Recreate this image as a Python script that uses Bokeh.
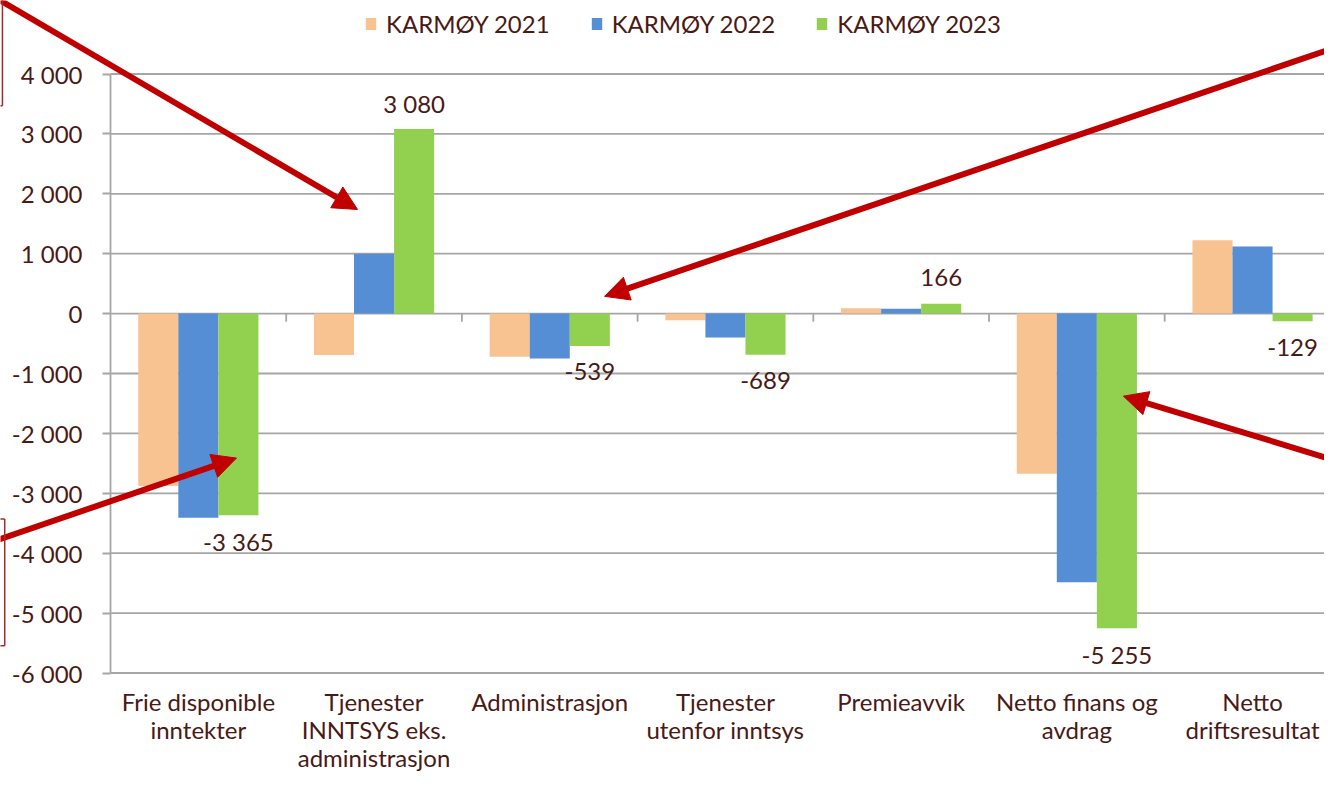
from bokeh.plotting import figure
from bokeh.models import Range1d, FixedTicker, Arrow, NormalHead, ColumnDataSource
from bokeh.core.properties import value
from bokeh.embed import file_html
from bokeh.resources import INLINE

# ---------------- data ----------------
categories = [
    "Frie disponible\ninntekter",
    "Tjenester\nINNTSYS eks.\nadministrasjon",
    "Administrasjon",
    "Tjenester\nutenfor inntsys",
    "Premieavvik",
    "Netto finans og\navdrag",
    "Netto\ndriftsresultat",
]
series_names = ["KARMØY 2021", "KARMØY 2022", "KARMØY 2023"]
v2021 = [-2880, -690, -720, -110, 88, -2675, 1223]
v2022 = [-3410, 1000, -750, -400, 80, -4484, 1122]
v2023 = [-3365, 3080, -539, -689, 166, -5255, -129]
y_ticks = [-6000, -5000, -4000, -3000, -2000, -1000, 0, 1000, 2000, 3000, 4000]

# ---------------- style ----------------
FONT = "Lato"
FS = "24px"
TXT = "#4a1914"
GRID = "#a6a6a6"
COLORS = ["#f8c291", "#558ed5", "#92d050"]
RED = "#c00000"
BOXRED = "#a52a2a"
BAR_W = 0.228

W, H = 1324, 771
LEFT, TOP, BOTTOM = 110, 73.5, 672.5      # pixel positions of the plot area
CAT_PX = 175.7                            # pixel width of one category
N = len(categories)
YMIN, YMAX = y_ticks[0], y_ticks[-1]
px_per_unit = (BOTTOM - TOP) / (YMAX - YMIN)


def fmt(v):
    return f"{v:,}".replace(",", " ")


# the frame covers the whole canvas so that annotations outside the plot area are visible
p = figure(
    width=W, height=H,
    x_range=Range1d(-LEFT / CAT_PX, (W - LEFT) / CAT_PX),
    y_range=Range1d(YMIN - (H - BOTTOM) / px_per_unit, YMAX + TOP / px_per_unit),
    output_backend="svg", toolbar_location=None,
    min_border=0, min_border_left=0, min_border_right=0, min_border_top=0, min_border_bottom=0,
)
p.outline_line_color = None
p.background_fill_color = "white"
p.border_fill_color = "white"
p.xgrid.visible = False
p.ygrid.visible = False

# horizontal grid lines
p.segment(x0=[0] * len(y_ticks), x1=[N + 0.2] * len(y_ticks), y0=y_ticks, y1=y_ticks,
          line_color=GRID, line_width=1.8)

# bars
centers = [i + 0.5 for i in range(N)]
for i, (vals, name) in enumerate(zip([v2021, v2022, v2023], series_names)):
    xs = [c + (i - 1) * BAR_W for c in centers]
    p.vbar(x=xs, top=vals, bottom=0, width=BAR_W,
           fill_color=COLORS[i], line_color=None, legend_label=name)

# small tick marks below the zero line at category boundaries
bounds = list(range(1, N + 1))
p.segment(x0=bounds, x1=bounds, y0=[0] * len(bounds), y1=[-135] * len(bounds),
          line_color=GRID, line_width=1.8)

# axes drawn at fixed locations inside the frame
yax = p.yaxis[0]
yax.fixed_location = 0
yax.bounds = (YMIN, YMAX)
yax.ticker = FixedTicker(ticks=y_ticks)
yax.major_label_overrides = {t: fmt(t) for t in y_ticks}
yax.axis_line_color = GRID
yax.axis_line_width = 1.8
yax.major_tick_line_color = GRID
yax.major_tick_line_width = 1.8
yax.major_tick_out = 8
yax.major_tick_in = 0
yax.minor_tick_line_color = None
yax.major_label_standoff = 20
yax.major_label_text_font = FONT
yax.major_label_text_font_size = FS
yax.major_label_text_color = TXT

xax = p.xaxis[0]
xax.fixed_location = YMIN
xax.ticker = FixedTicker(ticks=centers)
xax.major_label_overrides = {c: lab for c, lab in zip(centers, categories)}
xax.axis_line_color = None
xax.major_tick_line_color = None
xax.major_tick_out = 0
xax.major_tick_in = 0
xax.minor_tick_line_color = None
xax.major_label_standoff = 14
xax.major_label_text_font = FONT
xax.major_label_text_font_size = FS
xax.major_label_text_color = TXT
xax.major_label_text_line_height = 0.96

# data labels for 2023
lab_src = ColumnDataSource(dict(
    x=[c + BAR_W for c in centers], y=v2023, txt=[fmt(v) for v in v2023],
    off=[-26 if v > 0 else 26 for v in v2023],
))
p.text(x="x", y="y", text="txt", y_offset="off", source=lab_src,
       text_font=value(FONT), text_font_size=FS, text_color=TXT,
       text_align="center", text_baseline="middle")

# legend
lg = p.legend[0]
lg.orientation = "horizontal"
lg.location = (364, 733)
lg.glyph_width = 13
lg.glyph_height = 15
lg.label_standoff = 9
lg.spacing = 40
lg.padding = 0
lg.margin = 0
lg.border_line_color = None
lg.background_fill_alpha = 0
lg.label_text_font = FONT
lg.label_text_font_size = FS
lg.label_text_color = TXT

# red annotation arrows (data coordinates)
arrows = [
    ((-0.683, 5322), (1.406, 1738)),
    ((7.057, 4528), (2.812, 288)),
    ((-0.655, -3792), (0.717, -2412)),
    ((7.057, -2528), (5.765, -1378)),
]
for (xs, ys), (xe, ye) in arrows:
    p.add_layout(Arrow(x_start=xs, y_start=ys, x_end=xe, y_end=ye,
                       line_color=RED, line_width=6,
                       end=NormalHead(size=24, fill_color=RED, line_color=RED, line_width=1)))

# edges of text boxes that lie mostly outside the picture
box_edges = [
    ((-0.615, 5400), (-0.615, 3472)),
    ((-0.7, 3472), (-0.615, 3472)),
    ((-0.602, -3428), (-0.602, -5545)),
    ((-0.7, -3428), (-0.602, -3428)),
    ((-0.7, -5545), (-0.602, -5545)),
]
for (xs, ys), (xe, ye) in box_edges:
    p.add_layout(Arrow(x_start=xs, y_start=ys, x_end=xe, y_end=ye, end=None,
                       line_color=BOXRED, line_width=1.5))

open("out.html", "w").write(file_html(p, INLINE))
